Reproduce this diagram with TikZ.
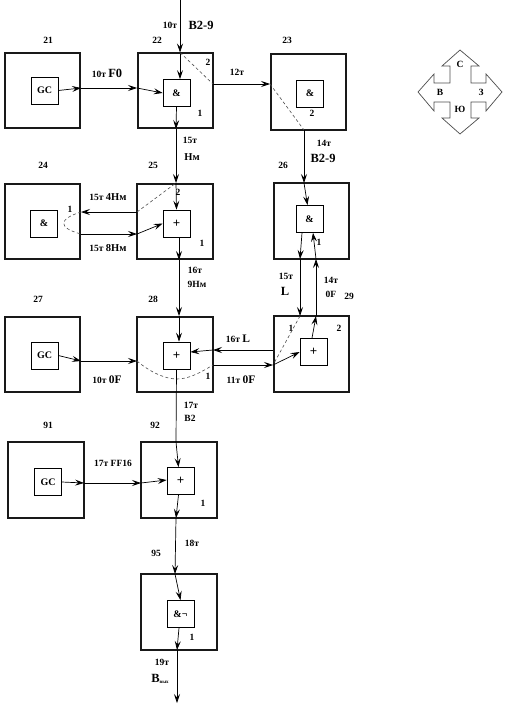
\documentclass[tikz,border=0pt]{standalone}
\usepackage{fontspec}
\setmainfont{Liberation Serif}
\usetikzlibrary{arrows.meta,calc}
\begin{document}
\begin{tikzpicture}[x=1pt,y=-1pt,
  outer/.style={draw=black!90,line width=2.2pt,minimum width=75.5pt,minimum height=75.5pt,inner sep=0pt},
  inner/.style={draw,line width=0.7pt,minimum width=27pt,minimum height=27pt,inner sep=0pt,font=\fontsize{10}{10}\selectfont\bfseries},
  plus/.style={inner,font=\fontsize{13}{13}\selectfont\bfseries},
  lab/.style={font=\fontsize{9.5}{10}\selectfont\bfseries,inner sep=0pt},
  big/.style={font=\fontsize{12.5}{12.5}\selectfont\bfseries,inner sep=0pt},
  conn/.style={line width=0.7pt,-{Stealth[length=9pt,width=6pt,inset=3.5pt]}},
  plain/.style={line width=0.7pt},
  dsh/.style={line width=0.6pt,draw=black!70,dash pattern=on 3pt off 2.5pt},
]
\useasboundingbox (0,0) rectangle (505,706);

% outer boxes
\node[outer] (b21) at (42.5,90.5) {};
\node[outer] (b22) at (175.5,90.5) {};
\node[outer] (b23) at (308.5,92) {};
\node[outer] (b24) at (42.5,221.5) {};
\node[outer] (b25) at (175,221.5) {};
\node[outer] (b26) at (311.5,221) {};
\node[outer] (b27) at (42.5,354.5) {};
\node[outer] (b28) at (175,354.5) {};
\node[outer] (b29) at (311.5,354) {};
\node[outer] (b91) at (46,480) {};
\node[outer] (b92) at (179,480) {};
\node[outer] (b95) at (179,612) {};

% inner boxes
\node[inner] (i21) at (44.5,90.5) {GC};
\node[inner] (i22) at (176.5,93) {\&};
\node[inner] (i23) at (310,93.5) {\&};
\node[inner] (i24) at (44,223.5) {\&};
\node[plus] (i25) at (176.5,223.5) {+};
\node[inner] (i26) at (309.5,219) {\&};
\node[inner] (i27) at (44.5,355.5) {GC};
\node[plus] (i28) at (176.5,355.5) {+};
\node[plus] (i29) at (313.5,352) {+};
\node[inner] (i91) at (48,482) {GC};
\node[plus] (i92) at (180.5,481) {+};
\node[inner] (i95) at (180.5,614) {\&¬};

% box numbers
\node[lab] (n21) at (48,40) {21};
\node[lab] (n22) at (157,40) {22};
\node[lab] (n23) at (287,40) {23};
\node[lab] (n24) at (43,165) {24};
\node[lab] (n25) at (153,165) {25};
\node[lab] (n26) at (283,165) {26};
\node[lab] (n27) at (38,299) {27};
\node[lab] (n28) at (153,299) {28};
\node[lab] (n29) at (349,296) {29};
\node[lab] (n91) at (48,425) {91};
\node[lab] (n92) at (155,425) {92};
\node[lab] (n95) at (156,553) {95};

% port numbers
\node[lab] (p22a) at (208,62) {2};
\node[lab] (p22b) at (200,113) {1};
\node[lab] (p23a) at (312,113) {2};
\node[lab] (p25a) at (178,192) {2};
\node[lab] (p25b) at (202,243) {1};
\node[lab] (p24a) at (70,209) {1};
\node[lab] (p26a) at (319,242) {1};
\node[lab] (p28a) at (208,376) {1};
\node[lab] (p29a) at (291,328) {1};
\node[lab] (p29b) at (339,328) {2};
\node[lab] (p92a) at (203,503) {1};
\node[lab] (p95a) at (192,637) {1};

% junction coordinates
\coordinate (top) at (180,0);
\coordinate (t22) at (180,52.5);
\coordinate (e21) at (81,88);
\coordinate (w22) at (137,88);
\coordinate (s22) at (176,129);
\coordinate (e22) at (213,84);
\coordinate (w23) at (270,84);
\coordinate (s23) at (304,130);
\coordinate (t26) at (304,183);
\coordinate (t25) at (176,183);
\coordinate (w25a) at (137,212);
\coordinate (e24a) at (81,212);
\coordinate (e24b) at (81,234);
\coordinate (w25b) at (137,234);
\coordinate (s25) at (179,260);
\coordinate (t28) at (179,316);
\coordinate (s26a) at (300,259);
\coordinate (t29a) at (300,316);
\coordinate (s26b) at (316,259);
\coordinate (t29b) at (316,316);
\coordinate (w29a) at (273,350);
\coordinate (e28a) at (213,350);
\coordinate (e28b) at (213,365);
\coordinate (w29b) at (273,365);
\coordinate (e27) at (81,361);
\coordinate (w28) at (137,361);
\coordinate (t92) at (176,442);
\coordinate (e91) at (84,483);
\coordinate (w92) at (141,483);
\coordinate (s92) at (176,518);
\coordinate (t95) at (175,574);
\coordinate (s95) at (177,650);
\coordinate (out) at (177,703);

% connectors
\draw[conn] (top) -- (t22);
\draw[conn] (t22) -- (t22 |- i22.north);
\draw[conn] (i21.east) -- (e21);
\draw[conn] (e21) -- (w22);
\draw[conn] (w22) -- (i22.west);
\draw[conn] (i22.south) -- (s22);
\draw[conn] (s22) -- (t25);
\draw[conn] (t25) -- (i25.north);
\draw[dsh] (t22) -- (e22);
\draw[conn] (e22) -- (w23);
\draw[dsh] (w23) -- (s23);
\draw[conn] (s23) -- (t26);
\draw[conn] (t26) -- ([xshift=-2pt]i26.north);

\draw[conn] (w25a) -- (e24a);
\draw[conn] (e24b) -- (w25b);
\draw[conn] (w25b) -- (i25.west);
\draw[dsh] (w25a) -- (t25);
\draw[dsh] (e24a) .. controls (58,219) and (58,228) .. (e24b);
\draw[conn] ([xshift=2.5pt]i25.south) -- (s25);
\draw[conn] (s25) -- (t28);
\draw[conn] (t28) -- (t28 |- i28.north);

\draw[conn] ([xshift=-7.5pt]i26.south) -- (s26a);
\draw[conn] (s26a) -- (t29a);
\draw[conn] ([xshift=-1.5pt]i29.north) -- (t29b);
\draw[conn] (t29b) -- (s26b);
\draw[conn] (s26b) -- ([xshift=3.5pt]i26.south);
\draw[dsh] (t29a) -- (w29b);

\draw[conn] (w29a) -- (e28a);
\draw[conn] (e28a) -- ([yshift=3.5pt]i28.east);
\draw[conn] (e28b) -- (w29b);
\draw[conn] (w29b) -- (i29.west);
\draw[conn] (i27.east) -- (e27);
\draw[conn] (e27) -- (w28);
\draw[dsh] (w28) .. controls (150,372) and (165,379) .. (177,379) .. controls (190,379) and (203,371) .. (e28b);

\draw[plain] (i28.south) -- (t92);
\draw[conn] (t92) -- ([xshift=-2pt]i92.north);
\draw[conn] (i91.east) -- (e91);
\draw[conn] (e91) -- (w92);
\draw[conn] (w92) -- ([yshift=1pt]i92.west);
\draw[conn] ([xshift=-2pt]i92.south) -- (s92);
\draw[conn] (s92) -- (t95);
\draw[conn] (t95) -- (i95.north);
\draw[conn] ([xshift=-1.5pt]i95.south) -- (s95);
\draw[conn] (s95) -- (out);

% edge labels
\node[lab] (l1) at (170,25) {10т};
\node[big] (l2) at (201,25) {В2-9};
\node[lab] (l3) at (107,73) {10т {\fontsize{12.5}{12.5}\selectfont F0}};
\node[lab] (l4) at (237,72) {12т};
\node[lab] (l5) at (190,140) {15т};
\node[lab] (l6) at (192,157) {\fontsize{10.5}{10.5}\selectfont Нм};
\node[lab] (l7) at (324,143) {14т};
\node[big] (l8) at (323,158) {В2-9};
\node[lab] (l9) at (108,197) {15т {\fontsize{10.5}{10.5}\selectfont 4Нм}};
\node[lab] (l10) at (108,248) {15т {\fontsize{10.5}{10.5}\selectfont 8Нм}};
\node[lab] (l11) at (195,270) {16т};
\node[lab] (l12) at (197,284) {9Нм};
\node[lab] (l13) at (286,276) {15т};
\node[big] (l14) at (285,291) {L};
\node[lab] (l15) at (331,280) {14т};
\node[lab] (l16) at (331,294) {0F};
\node[lab] (l17) at (238,339) {16т {\fontsize{11.5}{11.5}\selectfont L}};
\node[lab] (l18) at (241,380) {11т {\fontsize{11.5}{11.5}\selectfont 0F}};
\node[lab] (l19) at (107,380) {10т {\fontsize{11.5}{11.5}\selectfont 0F}};
\node[lab] (l20) at (191,405) {17т};
\node[lab] (l21) at (190,418) {В2};
\node[lab] (l22) at (113,463) {17т FF16};
\node[lab] (l23) at (192,543) {18т};
\node[lab] (l24) at (162,662) {19т};
\node[lab] (l25) at (160,679) {{\fontsize{12.5}{12.5}\selectfont В}\raisebox{-1pt}{\fontsize{5}{5}\selectfont вых}};

% compass legend
\draw[line width=0.7pt,draw=black!70] (460,50) -- (479,66) -- (471,66) -- (471,83) -- (486,83) -- (486,74) -- (502,92) -- (486,111) -- (486,102) -- (471,102) -- (471,118) -- (479,118) -- (460,134) -- (442,118) -- (450,118) -- (450,102) -- (434,102) -- (434,111) -- (418,92) -- (434,74) -- (434,83) -- (450,83) -- (450,66) -- (442,66) -- cycle;
\node[lab] (cN) at (460,64) {С};
\node[lab] (cW) at (440,92) {В};
\node[lab] (cE) at (481,92) {З};
\node[lab] (cS) at (460,109) {Ю};
\end{tikzpicture}
\end{document}
